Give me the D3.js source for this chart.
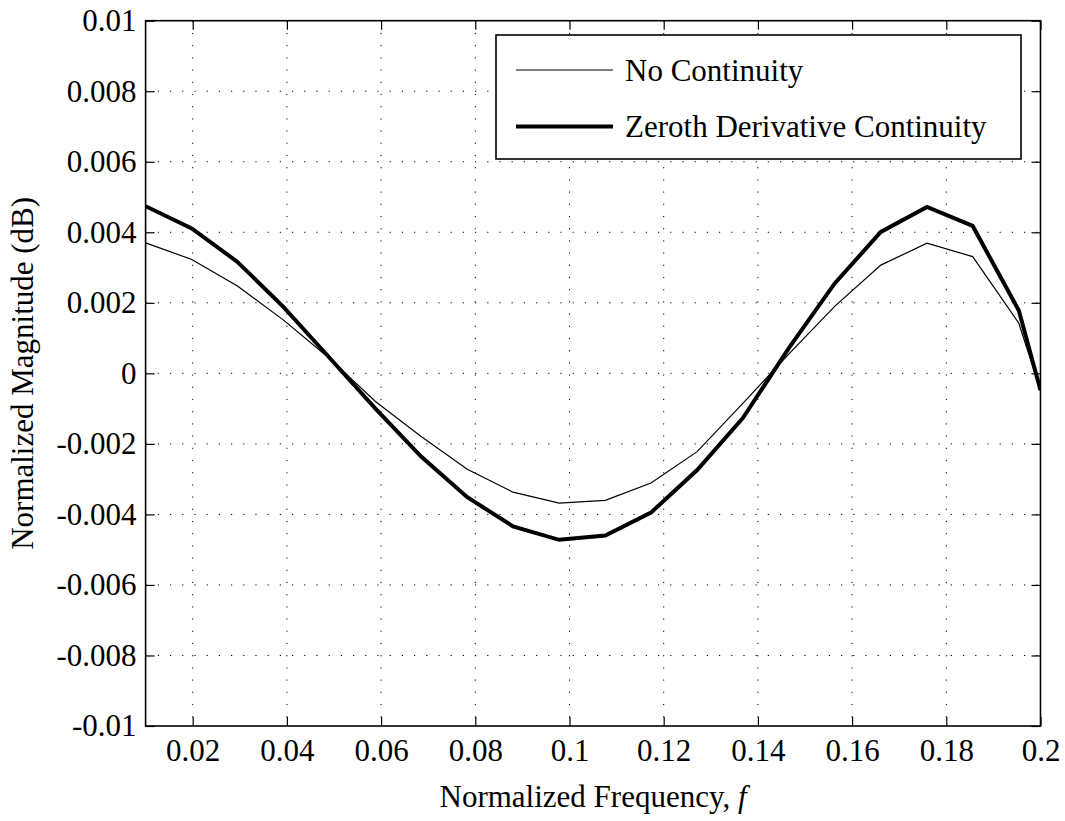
<!DOCTYPE html>
<html>
<head>
<meta charset="utf-8">
<script src="https://cdn.jsdelivr.net/npm/d3@7"></script>
<style>
  html, body { margin: 0; padding: 0; background: #fff; }
  svg { display: block; }
</style>
</head>
<body>
<svg id="chart" width="1065" height="821"></svg>
<script>
// Sample frequencies (normalized)
const frequency = [0.01, 0.0198, 0.0295, 0.0393, 0.049, 0.0588, 0.0685, 0.0783, 0.088, 0.0978,
  0.1076, 0.1173, 0.1271, 0.1368, 0.1466, 0.1563, 0.1661, 0.1759, 0.1856, 0.1954, 0.2];

// Normalized magnitude (dB) without continuity constraint
const noContinuity = [0.00370, 0.00323, 0.00248, 0.00151, 0.00043, -0.00080, -0.00179, -0.00272,
  -0.00337, -0.00368, -0.00360, -0.00311, -0.00222, -0.00085, 0.00055, 0.00190, 0.00307,
  0.00369, 0.00331, 0.00142, -0.00048];

// Normalized magnitude (dB) with zeroth derivative continuity
const zerothContinuity = [0.00474, 0.00411, 0.00316, 0.00188, 0.00045, -0.00100, -0.00236, -0.00351,
  -0.00434, -0.00472, -0.00460, -0.00395, -0.00274, -0.00127, 0.00072, 0.00255, 0.00401,
  0.00472, 0.00418, 0.00178, -0.00048];

const xTicks = [0.02, 0.04, 0.06, 0.08, 0.1, 0.12, 0.14, 0.16, 0.18, 0.2];
const xTickLabels = ["0.02", "0.04", "0.06", "0.08", "0.1", "0.12", "0.14", "0.16", "0.18", "0.2"];
const yTicks = [-0.01, -0.008, -0.006, -0.004, -0.002, 0, 0.002, 0.004, 0.006, 0.008, 0.01];
const yTickLabels = ["-0.01", "-0.008", "-0.006", "-0.004", "-0.002", "0", "0.002", "0.004", "0.006", "0.008", "0.01"];

const seriesNames = ["No Continuity", "Zeroth Derivative Continuity"];
const seriesWidths = [1.2, 4];

const SERIF = "'Liberation Serif'";
const TICK_FONT = 31;
const LABEL_FONT = 31;
const TICK = 9;

const svg = d3.select("#chart");
const margin = { left: 145.6, right: 1040.5, top: 20.7, bottom: 726 };

const x = d3.scaleLinear().domain([0.01, 0.2]).range([margin.left, margin.right]);
const y = d3.scaleLinear().domain([-0.01, 0.01]).range([margin.bottom, margin.top]);

function serifText(sel, size) {
  return sel.style("font-family", SERIF).style("font-size", size + "px").style("fill", "#000");
}

// Dotted grid
const grid = svg.append("g");
grid.selectAll("line.gx").data(xTicks.filter(t => t < 0.2)).join("line")
  .attr("x1", d => x(d)).attr("x2", d => x(d))
  .attr("y1", margin.top).attr("y2", margin.bottom)
  .attr("stroke", "#000").attr("stroke-width", 1).attr("stroke-dasharray", "1.2,11");
grid.selectAll("line.gy").data(yTicks.filter(t => t > -0.01 && t < 0.01)).join("line")
  .attr("y1", d => y(d)).attr("y2", d => y(d))
  .attr("x1", margin.left).attr("x2", margin.right)
  .attr("stroke", "#000").attr("stroke-width", 1).attr("stroke-dasharray", "1.2,11");

// Inward ticks on all four sides
const axBottom = d3.axisBottom(x).tickValues(xTicks).tickSize(-TICK).tickFormat((d, i) => xTickLabels[i]).tickPadding(13);
const axTop = d3.axisTop(x).tickValues(xTicks).tickSize(-TICK).tickFormat("");
const axLeft = d3.axisLeft(y).tickValues(yTicks).tickSize(-TICK).tickFormat((d, i) => yTickLabels[i]).tickPadding(9);
const axRight = d3.axisRight(y).tickValues(yTicks).tickSize(-TICK).tickFormat("");

function styleAxis(g) {
  g.attr("font-family", null).attr("font-size", null);
  g.select(".domain").remove();
  g.selectAll(".tick line").attr("stroke", "#000").attr("stroke-width", 1.2);
  g.selectAll(".tick text").call(serifText, TICK_FONT);
}
svg.append("g").attr("transform", `translate(0,${margin.bottom})`).call(axBottom).call(styleAxis);
svg.append("g").attr("transform", `translate(0,${margin.top})`).call(axTop).call(styleAxis);
svg.append("g").attr("transform", `translate(${margin.left},0)`).call(axLeft).call(styleAxis);
svg.append("g").attr("transform", `translate(${margin.right},0)`).call(axRight).call(styleAxis);

// Axes box
svg.append("rect")
  .attr("x", margin.left).attr("y", margin.top)
  .attr("width", margin.right - margin.left).attr("height", margin.bottom - margin.top)
  .attr("fill", "none").attr("stroke", "#000").attr("stroke-width", 1.6);

// Data lines
const clipId = "plotclip";
svg.append("clipPath").attr("id", clipId).append("rect")
  .attr("x", margin.left).attr("y", margin.top)
  .attr("width", margin.right - margin.left).attr("height", margin.bottom - margin.top);

const line = d3.line().x((d, i) => x(frequency[i])).y(d => y(d));
const allSeries = [noContinuity, zerothContinuity];
svg.append("g").attr("clip-path", `url(#${clipId})`)
  .selectAll("path").data(allSeries).join("path")
  .attr("d", d => line(d))
  .attr("fill", "none").attr("stroke", "#000")
  .attr("stroke-width", (d, i) => seriesWidths[i])
  .attr("stroke-linejoin", "miter");

// Legend
const legend = svg.append("g");
legend.append("rect")
  .attr("x", 496).attr("y", 35).attr("width", 525).attr("height", 124)
  .attr("fill", "#fff").attr("stroke", "#000").attr("stroke-width", 1.6);
const rowY = [70, 126.5];
seriesNames.forEach((name, i) => {
  legend.append("line")
    .attr("x1", 516).attr("x2", 613).attr("y1", rowY[i]).attr("y2", rowY[i])
    .attr("stroke", "#000").attr("stroke-width", seriesWidths[i]);
  legend.append("text")
    .attr("x", 625).attr("y", rowY[i]).attr("dy", "0.35em")
    .call(serifText, TICK_FONT).text(name);
});

// Axis labels
const xl = svg.append("text")
  .attr("x", (margin.left + margin.right) / 2).attr("y", 807).attr("text-anchor", "middle")
  .call(serifText, LABEL_FONT);
xl.append("tspan").text("Normalized Frequency, ");
xl.append("tspan").style("font-style", "italic").text("f");

svg.append("text")
  .attr("transform", `translate(33,${(margin.top + margin.bottom) / 2}) rotate(-90)`)
  .attr("text-anchor", "middle").call(serifText, LABEL_FONT)
  .text("Normalized Magnitude (dB)");
</script>
</body>
</html>
